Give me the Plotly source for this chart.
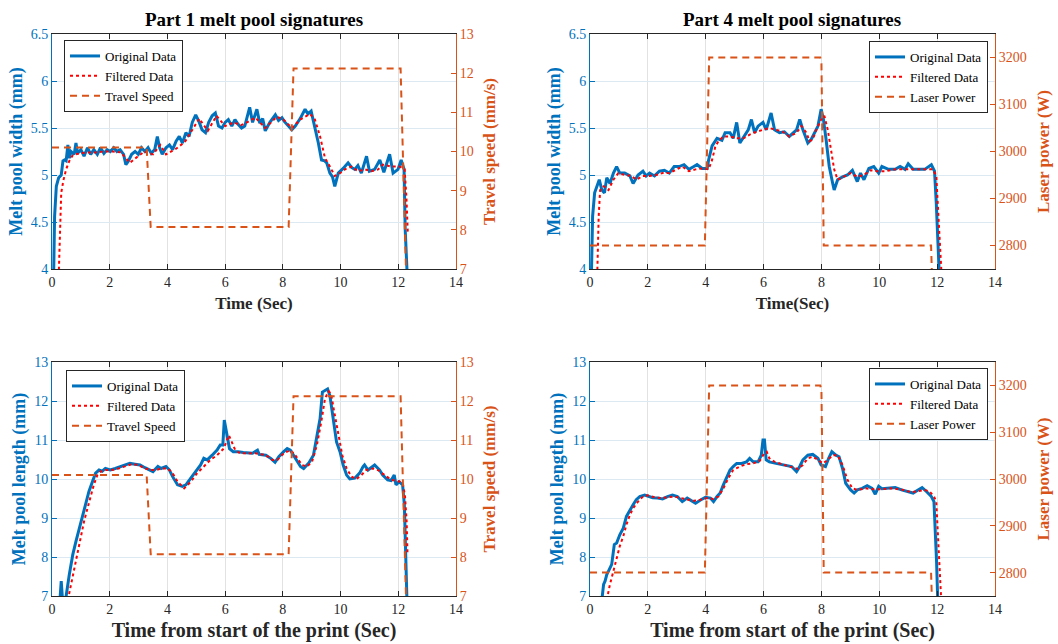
import plotly.graph_objects as go

# ---------------- data ----------------
# Part 1 melt pool width
w1_t = [0.05, 0.09, 0.15, 0.23, 0.32, 0.38, 0.43, 0.49, 0.55, 0.6, 0.66, 0.77, 0.83, 0.89, 1.0, 1.11,
        1.23, 1.34, 1.45, 1.57, 1.68, 1.8, 1.91, 2.02, 2.14, 2.25, 2.36, 2.48, 2.56, 2.65, 2.76, 2.88,
        2.99, 3.1, 3.22, 3.33, 3.44, 3.56, 3.65, 3.73, 3.82, 3.95, 4.07, 4.18, 4.3, 4.41, 4.52, 4.64,
        4.75, 4.86, 4.98, 5.09, 5.2, 5.32, 5.43, 5.55, 5.66, 5.77, 5.89, 6.0, 6.11, 6.23, 6.34, 6.45,
        6.57, 6.68, 6.85, 6.95, 7.1, 7.2, 7.3, 7.39, 7.55, 7.74, 7.85, 7.97, 8.05, 8.14, 8.31, 8.43,
        8.6, 8.77, 8.87, 8.98, 9.11, 9.23, 9.34, 9.45, 9.52, 9.63, 9.72, 9.8, 9.92, 10.0, 10.09, 10.26,
        10.38, 10.49, 10.6, 10.72, 10.9, 11.0, 11.18, 11.36, 11.5, 11.7, 11.82, 11.99, 12.1, 12.2,
        12.24, 12.3, 12.33]
w1_orig = [3.8, 4.56, 4.88, 4.97, 5.0, 5.15, 5.16, 5.15, 5.32, 5.18, 5.25, 5.22, 5.34, 5.23, 5.27, 5.2,
           5.29, 5.22, 5.27, 5.22, 5.29, 5.23, 5.27, 5.25, 5.29, 5.25, 5.27, 5.22, 5.11, 5.15, 5.22, 5.25,
           5.22, 5.29, 5.25, 5.29, 5.23, 5.27, 5.41, 5.29, 5.22, 5.29, 5.32, 5.27, 5.36, 5.41, 5.34, 5.45,
           5.41, 5.56, 5.64, 5.57, 5.48, 5.45, 5.56, 5.63, 5.66, 5.52, 5.5, 5.56, 5.59, 5.52, 5.59, 5.54,
           5.5, 5.52, 5.72, 5.56, 5.7, 5.55, 5.6, 5.47, 5.56, 5.64, 5.58, 5.61, 5.57, 5.54, 5.48, 5.52,
           5.6, 5.7, 5.65, 5.68, 5.52, 5.34, 5.16, 5.15, 5.13, 5.02, 4.98, 4.88, 5.02, 5.04, 5.07, 5.13,
           5.08, 5.06, 5.1, 5.02, 5.2, 5.04, 5.06, 5.16, 5.03, 5.22, 5.02, 5.06, 5.16, 5.06,
           4.42, 4.0, 3.8]
w1_filt_t = [0.22, 0.25, 0.28, 0.32, 0.4, 0.49, 0.6, 0.72, 0.94, 1.2, 1.5, 1.8, 2.1, 2.4, 2.55, 2.7,
             2.9, 3.2, 3.5, 3.75, 3.95, 4.3, 4.6, 4.9, 5.1, 5.4, 5.7, 6.0, 6.3, 6.55, 6.7, 7.05, 7.39,
             7.79, 8.02, 8.31, 8.6, 8.94, 9.11, 9.29, 9.46, 9.63, 9.8, 9.98, 10.15, 10.38, 10.61, 10.84,
             11.07, 11.3, 11.47, 11.76, 12.05, 12.22, 12.28, 12.33]
w1_filt = [3.8, 4.2, 4.42, 4.81, 4.95, 5.06, 5.15, 5.21, 5.23, 5.24, 5.24, 5.25, 5.25, 5.24, 5.18, 5.13,
           5.18, 5.25, 5.22, 5.32, 5.22, 5.28, 5.35, 5.5, 5.6, 5.47, 5.63, 5.52, 5.56, 5.53, 5.55, 5.61, 5.5,
           5.62, 5.59, 5.5, 5.59, 5.65, 5.59, 5.41, 5.18, 5.09, 4.99, 5.02, 5.06, 5.09, 5.04, 5.06,
           5.04, 5.06, 5.11, 5.09, 5.09, 5.06, 4.77, 4.38]

# Part 4 melt pool width
w4_t = [0.04, 0.09, 0.16, 0.24, 0.32, 0.41, 0.5, 0.58, 0.69, 0.81, 0.92, 1.03, 1.2, 1.38, 1.49, 1.66,
        1.83, 1.94, 2.06, 2.23, 2.4, 2.57, 2.74, 2.91, 3.08, 3.25, 3.42, 3.59, 3.7, 3.88, 4.05, 4.1,
        4.22, 4.39, 4.56, 4.67, 4.84, 4.95, 5.07, 5.18, 5.35, 5.47, 5.58, 5.69, 5.81, 5.98, 6.09, 6.26,
        6.38, 6.55, 6.72, 6.89, 7.14, 7.25, 7.36, 7.53, 7.65, 7.76, 7.88, 7.99, 8.07, 8.16, 8.27, 8.39,
        8.44, 8.56, 8.73, 8.9, 9.07, 9.24, 9.35, 9.47, 9.64, 9.81, 9.98, 10.09, 10.32, 10.55, 10.72,
        10.89, 11.0, 11.17, 11.34, 11.57, 11.8, 11.91, 11.97, 12.02, 12.08]
w4_orig = [3.8, 4.56, 4.81, 4.88, 4.95, 4.84, 4.81, 4.97, 4.91, 5.02, 5.09, 5.02, 5.02, 4.99, 4.91, 5.0,
           5.04, 4.99, 5.02, 4.99, 5.04, 5.05, 5.02, 5.09, 5.09, 5.11, 5.06, 5.09, 5.11, 5.07, 5.07, 5.16,
           5.31, 5.39, 5.37, 5.45, 5.45, 5.39, 5.56, 5.34, 5.43, 5.48, 5.59, 5.45, 5.52, 5.56, 5.48, 5.66,
           5.48, 5.45, 5.46, 5.41, 5.48, 5.59, 5.48, 5.34, 5.38, 5.45, 5.52, 5.7, 5.59, 5.38, 5.09, 4.91,
           4.84, 4.95, 4.98, 5.0, 5.05, 4.93, 5.02, 4.95, 5.07, 5.09, 5.02, 5.09, 5.06, 5.06, 5.09,
           5.06, 5.12, 5.06, 5.06, 5.06, 5.11, 5.04, 4.7, 4.35, 3.9]
w4_filt_t = [0.24, 0.3, 0.35, 0.47, 0.64, 0.81, 0.98, 1.2, 1.43, 1.6, 1.83, 2.06, 2.28, 2.51, 2.74, 2.97,
             3.19, 3.42, 3.65, 3.88, 4.1, 4.22, 4.33, 4.44, 4.61, 4.84, 5.07, 5.3, 5.52, 5.75, 5.98, 6.2,
             6.43, 6.66, 6.89, 7.14, 7.31, 7.48, 7.59, 7.7, 7.82, 7.99, 8.1, 8.22, 8.33, 8.44, 8.56, 8.78,
             9.01, 9.24, 9.47, 9.69, 9.92, 10.2, 10.55, 10.89, 11.23, 11.57, 11.85, 11.97, 12.02, 12.09,
             12.16]
w4_filt = [3.8, 4.56, 4.84, 4.88, 4.84, 4.95, 5.02, 5.0, 4.99, 4.95, 4.99, 4.99, 5.0, 5.02, 5.02, 5.06,
           5.09, 5.04, 5.06, 5.07, 5.06, 5.16, 5.3, 5.36, 5.41, 5.41, 5.39, 5.39, 5.43, 5.46, 5.48, 5.5,
           5.48, 5.46, 5.41, 5.45, 5.52, 5.45, 5.36, 5.38, 5.48, 5.59, 5.63, 5.48, 5.27, 5.06, 4.95, 4.98,
           5.02, 4.98, 5.0, 5.05, 5.04, 5.04, 5.06, 5.06, 5.06, 5.06, 5.06, 4.99, 4.7, 4.35,
           3.9]

# Part 1 melt pool length
l1_t = [0.2, 0.28, 0.32, 0.36, 0.45, 0.49, 0.6, 0.72, 0.83, 0.94, 1.06, 1.17, 1.28, 1.4, 1.51, 1.63,
        1.74, 1.85, 2.02, 2.19, 2.36, 2.53, 2.7, 2.88, 3.05, 3.22, 3.39, 3.5, 3.67, 3.78, 3.95, 4.07,
        4.18, 4.35, 4.52, 4.64, 4.81, 4.98, 5.15, 5.26, 5.38, 5.55, 5.72, 5.83, 5.92, 5.97, 6.02, 6.08,
        6.15, 6.28, 6.45, 6.63, 6.85, 6.95, 7.12, 7.18, 7.41, 7.58, 7.73, 7.86, 8.03, 8.15, 8.26, 8.43,
        8.61, 8.72, 8.89, 9.06, 9.18, 9.29, 9.37, 9.46, 9.55, 9.63, 9.75, 9.86, 9.98, 10.09, 10.21,
        10.32, 10.49, 10.66, 10.78, 10.83, 10.95, 11.18, 11.35, 11.46, 11.63, 11.75, 11.86, 11.92,
        12.03, 12.15, 12.21, 12.25, 12.3]
l1_orig = [6.9, 6.95, 7.38, 6.95, 6.9, 7.0, 7.55, 8.06, 8.4, 8.7, 9.08, 9.34, 9.68, 9.93, 10.15, 10.23,
           10.2, 10.27, 10.23, 10.27, 10.32, 10.36, 10.4, 10.38, 10.36, 10.29, 10.23, 10.19, 10.32, 10.27,
           10.32, 10.23, 10.06, 9.85, 9.81, 9.85, 10.02, 10.19, 10.36, 10.53, 10.49, 10.61, 10.74, 10.87,
           10.87, 11.51, 11.29, 11.12, 10.78, 10.7, 10.7, 10.68, 10.66, 10.66, 10.74, 10.63, 10.61, 10.53,
           10.43, 10.57, 10.7, 10.78, 10.74, 10.53, 10.32, 10.27, 10.4, 10.61, 11.12, 11.55, 12.23, 12.27,
           12.31, 12.14, 11.46, 10.95, 10.7, 10.36, 10.1, 10.0, 10.02, 10.15, 10.32, 10.36, 10.23, 10.36,
           10.23, 10.1, 9.98, 9.96, 10.1, 9.85, 9.93, 9.85, 9.34, 8.23, 6.9]
l1_filt_t = [0.55, 0.66, 0.77, 0.89, 1.0, 1.11, 1.23, 1.34, 1.45, 1.57, 1.68, 1.85, 2.08, 2.31, 2.53,
             2.76, 2.99, 3.22, 3.44, 3.61, 3.78, 4.01, 4.18, 4.35, 4.58, 4.81, 5.03, 5.26, 5.49, 5.72,
             5.95, 6.13, 6.24, 6.35, 6.52, 6.85, 7.06, 7.41, 7.64, 7.81, 8.03, 8.26, 8.43, 8.66, 8.83,
             9.01, 9.18, 9.33, 9.46, 9.58, 9.67, 9.78, 9.92, 10.06, 10.21, 10.38, 10.55, 10.72, 10.89,
             11.12, 11.29, 11.52, 11.75, 11.98, 12.15, 12.23, 12.29, 12.32]
l1_filt = [6.9, 7.3, 7.72, 8.15, 8.57, 8.91, 9.25, 9.59, 9.85, 10.1, 10.19, 10.23, 10.23, 10.27, 10.32,
           10.38, 10.36, 10.27, 10.23, 10.23, 10.27, 10.27, 10.15, 9.93, 9.76, 9.93, 10.15, 10.32, 10.49,
           10.61, 10.78, 11.12, 10.95, 10.74, 10.66, 10.66, 10.66, 10.61, 10.49, 10.49, 10.66, 10.74,
           10.61, 10.36, 10.32, 10.44, 10.87, 11.46, 12.06, 12.25, 12.19, 11.72, 11.12, 10.61, 10.27,
           10.06, 10.0, 10.1, 10.23, 10.27, 10.23, 10.1, 9.98, 9.95, 9.9, 9.59, 8.91, 8.06]

# Part 4 melt pool length
l4_t = [0.41, 0.47, 0.52, 0.58, 0.64, 0.75, 0.84, 0.92, 1.03, 1.15, 1.26, 1.38, 1.49, 1.6, 1.72, 1.89,
        2.0, 2.17, 2.34, 2.51, 2.68, 2.85, 3.02, 3.19, 3.36, 3.53, 3.65, 3.82, 3.99, 4.16, 4.27, 4.39,
        4.5, 4.61, 4.73, 4.84, 4.95, 5.07, 5.24, 5.41, 5.52, 5.64, 5.81, 5.92, 5.98, 6.03, 6.09, 6.2,
        6.43, 6.66, 6.89, 6.97, 7.14, 7.25, 7.36, 7.53, 7.7, 7.88, 7.99, 8.14, 8.25, 8.36, 8.5, 8.61,
        8.73, 8.84, 9.01, 9.13, 9.24, 9.41, 9.58, 9.75, 9.86, 9.98, 10.09, 10.32, 10.55, 10.77, 11.0,
        11.17, 11.34, 11.48, 11.63, 11.8, 11.89, 11.94, 11.98, 12.02]
l4_orig = [6.9, 7.3, 7.38, 7.55, 7.64, 7.81, 8.32, 8.36, 8.57, 8.74, 9.04, 9.21, 9.34, 9.47, 9.55, 9.59,
           9.57, 9.52, 9.51, 9.49, 9.55, 9.59, 9.55, 9.42, 9.51, 9.44, 9.38, 9.46, 9.53, 9.51, 9.42, 9.55,
           9.64, 9.85, 10.06, 10.23, 10.32, 10.4, 10.4, 10.44, 10.53, 10.44, 10.44, 10.61, 11.0, 11.0,
           10.49, 10.44, 10.4, 10.36, 10.32, 10.32, 10.19, 10.32, 10.49, 10.61, 10.63, 10.53, 10.36,
           10.32, 10.53, 10.7, 10.61, 10.57, 10.27, 9.89, 9.72, 9.64, 9.72, 9.76, 9.83, 9.76, 9.61, 9.81,
           9.75, 9.76, 9.78, 9.72, 9.68, 9.64, 9.72, 9.78, 9.68, 9.55, 9.42, 8.74, 7.89, 6.9]
l4_filt_t = [0.58, 0.69, 0.81, 0.92, 1.03, 1.15, 1.26, 1.38, 1.49, 1.66, 1.83, 2.0, 2.23, 2.45, 2.68,
             2.91, 3.14, 3.36, 3.59, 3.82, 4.05, 4.27, 4.44, 4.61, 4.78, 4.95, 5.18, 5.41, 5.64, 5.86,
             6.03, 6.11, 6.2, 6.38, 6.6, 6.89, 7.19, 7.36, 7.53, 7.7, 7.88, 8.05, 8.22, 8.39, 8.56, 8.73,
             8.9, 9.07, 9.24, 9.52, 9.81, 10.09, 10.43, 10.77, 11.11, 11.4, 11.57, 11.74, 11.89, 11.97,
             12.02, 12.08, 12.14]
l4_filt = [6.9, 7.3, 7.64, 7.98, 8.28, 8.53, 8.83, 9.08, 9.25, 9.42, 9.55, 9.58, 9.53, 9.51, 9.53,
           9.55, 9.51, 9.47, 9.44, 9.47, 9.51, 9.49, 9.55, 9.76, 10.02, 10.23, 10.32, 10.38, 10.4, 10.46,
           10.66, 10.7, 10.53, 10.44, 10.38, 10.32, 10.26, 10.36, 10.53, 10.57, 10.49, 10.4, 10.49, 10.61,
           10.61, 10.36, 9.98, 9.76, 9.72, 9.76, 9.74, 9.74, 9.76, 9.73, 9.66, 9.69, 9.72, 9.68, 9.55,
           9.42, 8.74, 7.89, 6.9]

# Process parameters
speed_t = [0, 3.28, 3.42, 8.2, 8.37, 12.08, 12.27]
speed = [10.1, 10.1, 8.07, 8.07, 12.12, 12.12, 6.9]
power_t = [0, 3.97, 4.12, 7.96, 8.0, 8.08, 11.79, 11.82]
power = [2800, 2800, 3200, 3200, 3190, 2800, 2800, 2740]

x_ticks = [0, 2, 4, 6, 8, 10, 12, 14]

# ---------------- styling ----------------
BLUE = "#0072BD"
ORANGE = "#D95319"
RED = "#FF0000"
DARK = "#262626"
FONT = "Liberation Serif, Times New Roman, serif"

fig = go.Figure()

panels = [
    dict(xa="x", yl="y", yr="y2", lg="legend",
         to=w1_t, yo=w1_orig, tf=w1_filt_t, yf=w1_filt, tp=speed_t, yp=speed, pname="Travel Speed"),
    dict(xa="x2", yl="y3", yr="y4", lg="legend2",
         to=w4_t, yo=w4_orig, tf=w4_filt_t, yf=w4_filt, tp=power_t, yp=power, pname="Laser Power"),
    dict(xa="x3", yl="y5", yr="y6", lg="legend3",
         to=l1_t, yo=l1_orig, tf=l1_filt_t, yf=l1_filt, tp=speed_t, yp=speed, pname="Travel Speed"),
    dict(xa="x4", yl="y7", yr="y8", lg="legend4",
         to=l4_t, yo=l4_orig, tf=l4_filt_t, yf=l4_filt, tp=power_t, yp=power, pname="Laser Power"),
]

for p in panels:
    fig.add_trace(go.Scatter(x=p["to"], y=p["yo"], xaxis=p["xa"], yaxis=p["yl"], mode="lines",
                             name="Original Data", legend=p["lg"],
                             line=dict(color=BLUE, width=3)))
    fig.add_trace(go.Scatter(x=p["tf"], y=p["yf"], xaxis=p["xa"], yaxis=p["yl"], mode="lines",
                             name="Filtered Data", legend=p["lg"],
                             line=dict(color=RED, width=2, dash="dot")))
    fig.add_trace(go.Scatter(x=p["tp"], y=p["yp"], xaxis=p["xa"], yaxis=p["yr"], mode="lines",
                             name=p["pname"], legend=p["lg"],
                             line=dict(color=ORANGE, width=2, dash="7px,5px")))

W, H = 1058, 644
xl = [52 / W, 456 / W]
xr = [590 / W, 995 / W]
yt = [1 - 269 / H, 1 - 34 / H]
yb = [1 - 596 / H, 1 - 362 / H]


def xax(domain, anchor, title, tsize, standoff):
    return dict(domain=domain, anchor=anchor, range=[0, 14], tickvals=x_ticks, automargin=False,
                ticks="inside", ticklen=5, tickcolor=DARK, showline=True, linecolor=DARK,
                linewidth=1, mirror="ticks", showgrid=True, gridcolor="#E2E2E2", zeroline=False,
                tickfont=dict(family=FONT, size=14, color=DARK),
                title=dict(text="<b>" + title + "</b>", font=dict(family=FONT, size=tsize, color=DARK),
                           standoff=standoff))


def ylax(domain, anchor, rng, dtick, title):
    return dict(domain=domain, anchor=anchor, range=rng, dtick=dtick, ticks="inside", ticklen=5,
                automargin=False,
                tickcolor=BLUE, showline=True, linecolor=BLUE, linewidth=1, showgrid=True,
                gridcolor="#DCE9F3", zeroline=False, tickfont=dict(family=FONT, size=14, color=BLUE),
                title=dict(text="<b>" + title + "</b>", font=dict(family=FONT, size=18, color=BLUE),
                           standoff=3))


def yrax(overlay, anchor, rng, dtick, tick0, title, standoff):
    return dict(overlaying=overlay, anchor=anchor, side="right", range=rng, dtick=dtick, tick0=tick0,
                automargin=False,
                ticks="inside", ticklen=5, tickcolor=ORANGE, showline=True, linecolor=ORANGE,
                linewidth=1, showgrid=False, zeroline=False,
                tickfont=dict(family=FONT, size=14, color=ORANGE),
                title=dict(text="<b>" + title + "</b>", font=dict(family=FONT, size=17, color=ORANGE),
                           standoff=standoff))


def leg(x, y, xanchor):
    return dict(x=x, y=y, xanchor=xanchor, yanchor="top", bgcolor="white", bordercolor=DARK,
                borderwidth=1, font=dict(family=FONT, size=13, color="black"), itemwidth=30,
                tracegroupgap=0)


fig.update_layout(
    template="none",
    width=W, height=H, margin=dict(l=0, r=0, t=0, b=0, autoexpand=False),
    paper_bgcolor="white", plot_bgcolor="white",
    font=dict(family=FONT),
    xaxis=xax(xl, "y", "Time (Sec)", 17, 8),
    xaxis2=xax(xr, "y3", "Time(Sec)", 17, 8),
    xaxis3=xax(xl, "y5", "Time from start of the print (Sec)", 20, 7),
    xaxis4=xax(xr, "y7", "Time from start of the print (Sec)", 20, 7),
    yaxis=ylax(yt, "x", [4, 6.5], 0.5, "Melt pool width (mm)"),
    yaxis2=yrax("y", "x", [7, 13], 1, 7, "Travel speed (mm/s)", 10),
    yaxis3=ylax(yt, "x2", [4, 6.5], 0.5, "Melt pool width (mm)"),
    yaxis4=yrax("y3", "x2", [2750, 3250], 100, 2800, "Laser power (W)", 11),
    yaxis5=ylax(yb, "x3", [7, 13], 1, "Melt pool length (mm)"),
    yaxis6=yrax("y5", "x3", [7, 13], 1, 7, "Travel speed (mm/s)", 10),
    yaxis7=ylax(yb, "x4", [7, 13], 1, "Melt pool length (mm)"),
    yaxis8=yrax("y7", "x4", [2750, 3250], 100, 2800, "Laser power (W)", 11),
    legend=leg(64 / W, 1 - 40 / H, "left"),
    legend2=leg(988 / W, 1 - 41 / H, "right"),
    legend3=leg(66 / W, 1 - 370 / H, "left"),
    legend4=leg(988 / W, 1 - 368 / H, "right"),
    annotations=[
        dict(text="<b>Part 1 melt pool signatures</b>", x=254 / W, y=1 - 20 / H, xref="paper",
             yref="paper", showarrow=False, xanchor="center", yanchor="middle",
             font=dict(family=FONT, size=19, color="black")),
        dict(text="<b>Part 4 melt pool signatures</b>", x=792 / W, y=1 - 20 / H, xref="paper",
             yref="paper", showarrow=False, xanchor="center", yanchor="middle",
             font=dict(family=FONT, size=19, color="black")),
    ],
)

fig.write_html("out.html", config={"displayModeBar": False},
               post_script="document.body.style.margin='0px';")
